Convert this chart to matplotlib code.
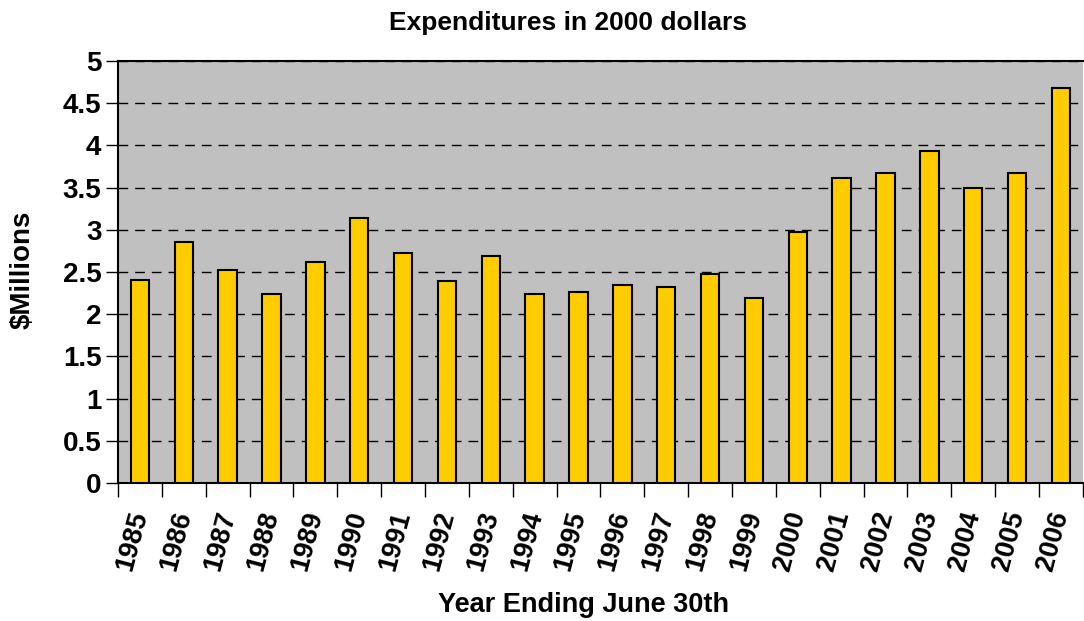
import matplotlib
matplotlib.use("Agg")
import matplotlib.pyplot as plt
import numpy as np

years = [str(y) for y in range(1985, 2007)]
spending = [2.41, 2.86, 2.52, 2.24, 2.62, 3.14, 2.73, 2.39, 2.69, 2.24, 2.26,
            2.35, 2.32, 2.48, 2.19, 2.97, 3.61, 3.67, 3.93, 3.50, 3.67, 4.68]

plt.rcParams["font.family"] = ["Liberation Sans", "DejaVu Sans"]
plt.rcParams["font.weight"] = "bold"

fig = plt.figure(figsize=(10.84, 6.21), dpi=100)
ax = fig.add_axes([0.1089, 0.2222, 0.8901, 0.6796])

x = np.arange(len(years))
ax.set_facecolor("#C0C0C0")
ax.bar(x, spending, width=0.42, color="#FFCC00", edgecolor="black", linewidth=1.5, zorder=3)

ax.set_xlim(-0.5, len(years) - 0.5)
ax.set_ylim(0, 5)
ax.set_yticks(np.arange(0, 5.01, 0.5))
ax.set_yticklabels(["0", "0.5", "1", "1.5", "2", "2.5", "3", "3.5", "4", "4.5", "5"])
ax.yaxis.grid(True, color="black", linestyle=(0, (7, 5)), linewidth=1, zorder=1)

ax.set_xticks(x)
ax.set_xticklabels(years, rotation=75, ha="right", va="center", rotation_mode="anchor")
ax.set_xticks(np.arange(-0.5, len(years), 1), minor=True)
ax.tick_params(axis="x", which="major", length=0, pad=21, labelsize=19.5)
ax.tick_params(axis="x", which="minor", length=10, width=1, direction="out")
ax.tick_params(axis="y", length=9, width=1, direction="out", labelsize=20, pad=3)

for side in ["top", "right", "left", "bottom"]:
    ax.spines[side].set_linewidth(1.5)
ax.spines["right"].set_visible(False)

fig.text(0.524, 0.963, "Expenditures in 2000 dollars", fontsize=19, fontweight="bold",
         ha="center", va="center")
fig.text(0.538, 0.025, "Year Ending June 30th", fontsize=19.5, fontweight="bold",
         ha="center", va="center")
fig.text(0.021, 0.565, "$Millions", fontsize=20, fontweight="bold", rotation=90,
         ha="center", va="center")

fig.savefig("out.png", dpi=100)
